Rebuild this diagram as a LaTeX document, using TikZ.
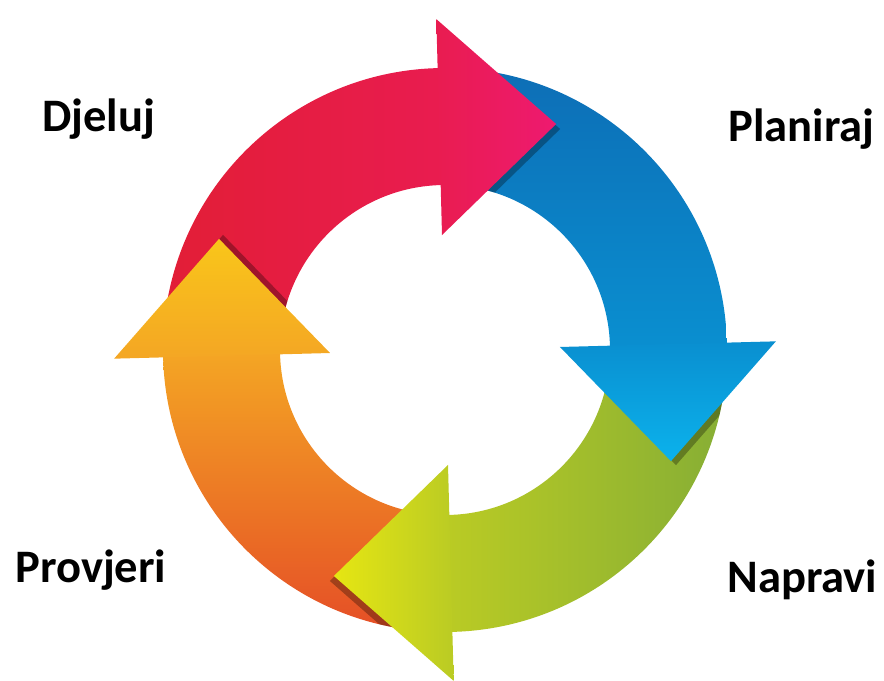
\documentclass[tikz,border=0pt]{standalone}
\usepackage{fontspec}
\setmainfont{Carlito}
\usetikzlibrary{calc}

\definecolor{redA}{HTML}{E21E36}
\definecolor{redB}{HTML}{E91C50}
\definecolor{redC}{HTML}{EE1A70}
\definecolor{blueA}{HTML}{0D6EB6}
\definecolor{blueB}{HTML}{0A8FD0}
\definecolor{blueC}{HTML}{0BB2EC}
\definecolor{greenA}{HTML}{86AE35}
\definecolor{greenB}{HTML}{BACB24}
\definecolor{greenC}{HTML}{E6E612}
\definecolor{orangeA}{HTML}{E54E26}
\definecolor{orangeB}{HTML}{F4A624}
\definecolor{orangeC}{HTML}{F9C61A}

% ring part from #2 clockwise, round centre #1
\newcommand{\shaftpath}[2]{($(#1)+(#2:282)$) arc[start angle=#2, delta angle=-89, radius=282]
  -- ($(#1)+(#2-89:165)$) arc[start angle=#2-89, delta angle=89, radius=165] -- cycle}
% head with its base at angle #2, pointing clockwise
\newcommand{\headpath}[2]{($(#1)+(#2:115)$) -- ($(#1)+(#2:331)$) -- ($(#1)+(#2:223)+(#2-90:117)$) -- cycle}

\begin{document}
\begin{tikzpicture}[x=0.02cm, y=0.02cm,
    phase/.style={inner sep=0pt, anchor=base west, font=\fontsize{26.5}{30}\selectfont\bfseries},
    headshadow/.style={fill=black, opacity=.3}]
  \useasboundingbox (0,0) rectangle (884,680);
  \coordinate (c) at (445,330);

  % Shafts (each one starts under the head before it)
  \shade[left color=redA, right color=redB] \shaftpath{c}{179.5};
  \shade[top color=blueA, bottom color=blueB] \shaftpath{c}{89.5};
  \shade[right color=greenA, left color=greenB] \shaftpath{c}{-0.5};
  \shade[bottom color=orangeA, top color=orangeB] \shaftpath{c}{269.5};

  % Shadows of the heads on the next shaft
  \foreach \s/\dx/\dy in {179.5/4/4, 89.5/4/-5, -0.5/5/-4, 269.5/-4/-5} {
    \begin{scope}
      \clip \shaftpath{c}{\s};
      \coordinate (cs) at ($(c)+(\dx,\dy)$);
      \fill[headshadow] \headpath{cs}{\s+2};
    \end{scope}
  }

  % Heads
  \shade[left color=redB, right color=redC] \headpath{c}{91.5};
  \shade[top color=blueB, bottom color=blueC] \headpath{c}{1.5};
  \shade[right color=greenB, left color=greenC] \headpath{c}{-88.5};
  \shade[bottom color=orangeB, top color=orangeC] \headpath{c}{181.5};

  % Labels
  \node[phase] (djeluj) at (42,548) {Djeluj};
  \node[phase] (planiraj) at (728,538) {Planiraj};
  \node[phase] (napravi) at (727,88) {Napravi};
  \node[phase] (provjeri) at (15,98) {Provjeri};
\end{tikzpicture}
\end{document}
